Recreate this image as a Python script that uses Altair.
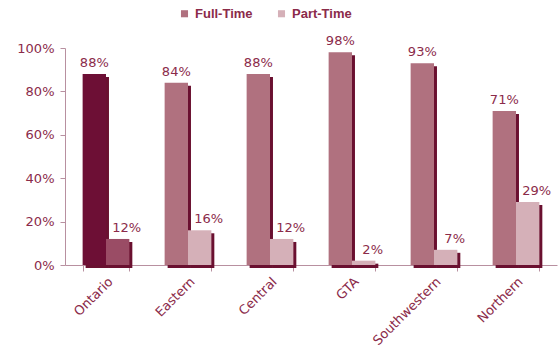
import altair as alt
import pandas as pd

regions = ["Ontario", "Eastern", "Central", "GTA", "Southwestern", "Northern"]
full_time = [88, 84, 88, 98, 93, 71]
part_time = [12, 16, 12, 2, 7, 29]
series = ["Full-Time", "Part-Time"]

rows = []
for r, f, p in zip(regions, full_time, part_time):
    for s, v in zip(series, [f, p]):
        key = ("Ontario " + s) if r == "Ontario" else s
        rows.append({"region": r, "series": s, "value": v, "key": key, "label": f"{v}%"})
df = pd.DataFrame(rows)

keys = ["Full-Time", "Part-Time", "Ontario Full-Time", "Ontario Part-Time"]
key_colors = ["#b0717f", "#d5b0b8", "#6d0f35", "#9a4c65"]

text_color = "#8b2b4a"
axis_color = "#b890a0"
font = "DejaVu Sans"

x_enc = alt.X("region:N", sort=regions, title=None,
              scale=alt.Scale(paddingInner=0.43, paddingOuter=0.215),
              axis=alt.Axis(labelAngle=-45, labelAlign="right", labelBaseline="top",
                            tickBand="extent", tickSize=6, domainColor=axis_color,
                            tickColor=axis_color, labelColor=text_color, labelFont=font,
                            labelFontSize=13, labelPadding=4))
y_enc = alt.Y("value:Q", title=None,
              scale=alt.Scale(domain=[0, 100]),
              axis=alt.Axis(values=[0, 20, 40, 60, 80, 100], labelExpr="datum.value + '%'",
                            grid=False, tickSize=5, domainColor=axis_color, tickColor=axis_color,
                            labelColor=text_color, labelFont=font, labelFontSize=13, labelPadding=6))
xoff = alt.XOffset("series:N", sort=series, scale=alt.Scale(domain=series))
# shadow layer: same grouping, shifted a few pixels right
xoff_shadow = alt.XOffset("series:N", sort=series, scale=alt.Scale(domain=series, range=[3, 49.7]))

base = alt.Chart(df)

shadow = base.mark_bar(color="#6a1030", yOffset=3).encode(
    x=x_enc, y=y_enc, xOffset=xoff_shadow)

bars = base.mark_bar().encode(
    x=x_enc, y=y_enc, xOffset=xoff,
    color=alt.Color("key:N", scale=alt.Scale(domain=keys, range=key_colors),
                    legend=alt.Legend(values=["Full-Time", "Part-Time"], title=None,
                                      orient="none", legendX=113, legendY=-41,
                                      direction="horizontal", symbolType="square",
                                      symbolSize=50, labelFont="Liberation Sans",
                                      labelFontSize=13, labelFontWeight="bold",
                                      labelColor=text_color, columnPadding=22,
                                      symbolStrokeWidth=0)),
)

text_full = base.transform_filter(alt.datum.series == "Full-Time").mark_text(
    dy=-4, fontSize=13, font=font, color=text_color, baseline="bottom").encode(
    x=x_enc, y=y_enc, xOffset=xoff, text="label:N")
text_part = base.transform_filter(alt.datum.series == "Part-Time").mark_text(
    dy=-4, dx=9, fontSize=13, font=font, color=text_color, baseline="bottom").encode(
    x=x_enc, y=y_enc, xOffset=xoff, text="label:N")

chart = alt.layer(shadow, bars, text_full, text_part).resolve_scale(
    xOffset="independent"
).properties(
    width=492, height=217,
    autosize=alt.AutoSizeParams(type="none"),
    padding={"left": 65, "top": 48, "right": 2, "bottom": 90},
    background="white",
).configure_view(stroke=None)

chart.save("out.html", embed_options={"renderer": "svg", "actions": False})
